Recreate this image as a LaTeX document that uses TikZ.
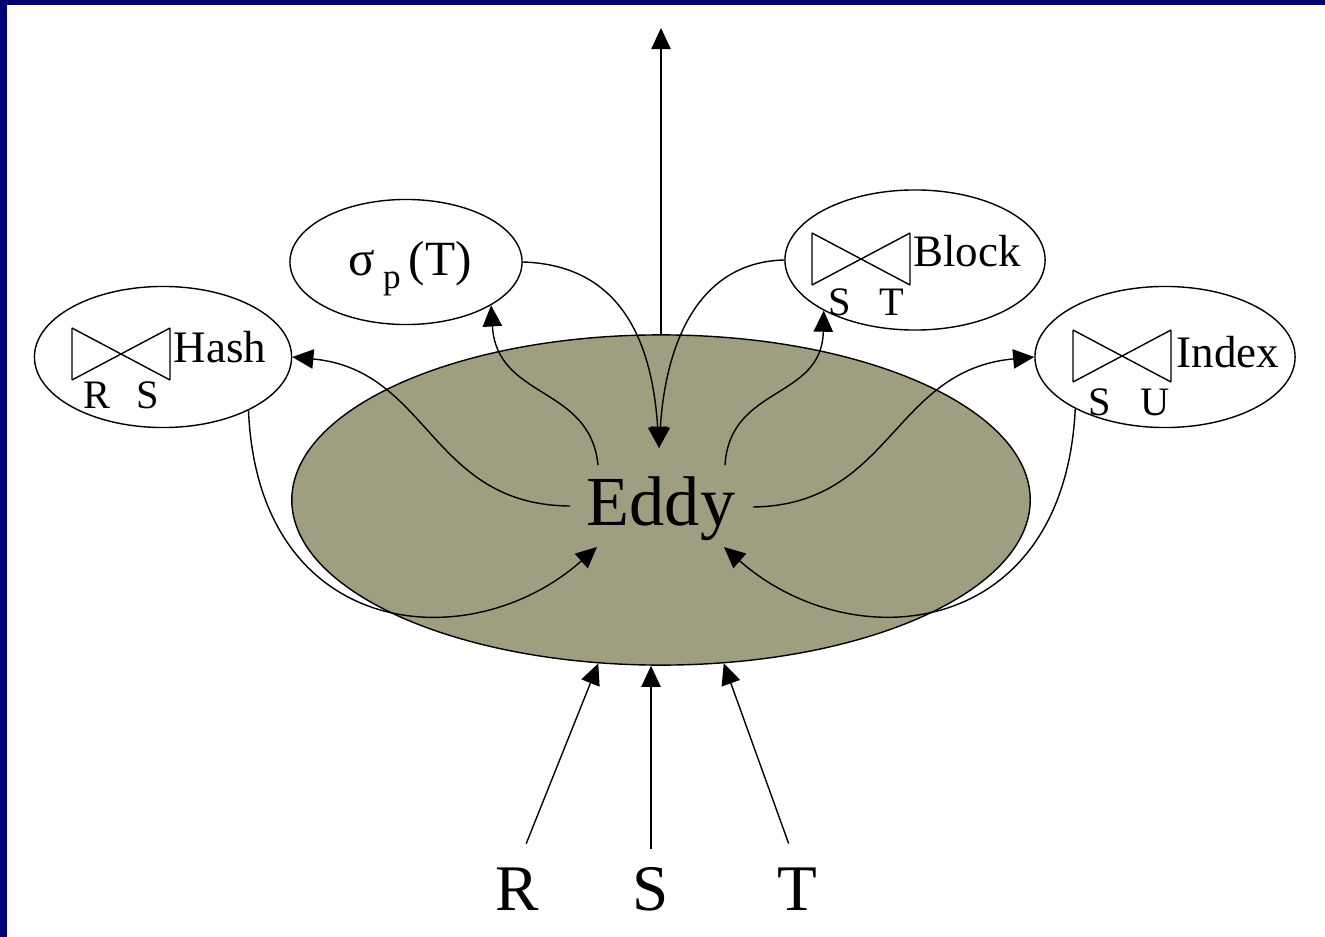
\documentclass[tikz,border=0pt]{standalone}
\usepackage{fontspec}
\setmainfont{Liberation Serif}
\usetikzlibrary{shapes.geometric,arrows.meta}
\definecolor{slidenavy}{RGB}{0,0,112}
\definecolor{eddyolive}{RGB}{160,158,128}
\tikzset{
  opnode/.style={draw, ellipse, inner sep=0pt},
  flow/.style={-{Triangle[length=6pt,width=5.5pt]}},
  oplabel/.style={inner sep=0pt, anchor=base, font=\fontsize{12.8}{14}\selectfont},
  sublabel/.style={inner sep=0pt, anchor=base, font=\fontsize{11.5}{13}\selectfont},
  srclabel/.style={inner sep=0pt, anchor=base, font=\fontsize{18.5}{20}\selectfont},
  bowtie/.pic={\draw (0,0) -- (0,52) (98,0) -- (98,52) (0,0) -- (98,52) (0,52) -- (98,0);}
}
\begin{document}
\begin{tikzpicture}[x=0.01cm, y=-0.01cm, line width=0.4pt]
  % slide frame
  \fill[slidenavy] (0,0) rectangle (1325,937);
  \fill[white] (7,5) rectangle (1325,937);
  \useasboundingbox (0,0) rectangle (1325,937);

  % eddy and operators
  \node[opnode, fill=eddyolive, minimum width=7.38cm, minimum height=3.3cm] (eddy) at (661,500) {};
  \node[srclabel, font=\fontsize{20}{22}\selectfont] (eddylbl) at (661,525) {Eddy};
  \node[opnode, minimum width=2.57cm, minimum height=1.41cm] (hash) at (163,357) {};
  \node[opnode, minimum width=2.32cm, minimum height=1.25cm] (select) at (406,262) {};
  \node[opnode, minimum width=2.6cm, minimum height=1.4cm] (block) at (915,260) {};
  \node[opnode, minimum width=2.6cm, minimum height=1.41cm] (index) at (1165,357) {};

  % operator labels
  \pic at (72,328) {bowtie};
  \node[oplabel] (hashlbl) at (220,362) {Hash};
  \node[sublabel] (hashR) at (97,408) {R};
  \node[sublabel] (hashS) at (148,408) {S};
  \node[oplabel, font=\fontsize{14}{16}\selectfont] (selectlbl) at (410,275)
    {σ\,\raisebox{-0.6ex}{\fontsize{10}{12}\selectfont p}\,(T)};
  \pic at (812,233) {bowtie};
  \node[oplabel] (blocklbl) at (967,267) {Block};
  \node[sublabel] (blockS) at (840,315) {S};
  \node[sublabel] (blockT) at (892,315) {T};
  \pic at (1073,330) {bowtie};
  \node[oplabel] (indexlbl) at (1228,367) {Index};
  \node[sublabel] (indexS) at (1100,415) {S};
  \node[sublabel] (indexU) at (1155,415) {U};

  % sources
  \node[srclabel] (inR) at (517,910) {R};
  \node[srclabel] (inS) at (651,910) {S};
  \node[srclabel] (inT) at (797,910) {T};

  % free ends inside the eddy
  \coordinate (out) at (661,28);
  \coordinate (toHash) at (570,506);
  \coordinate (toSelect) at (598,465);
  \coordinate (toBlock) at (725,465);
  \coordinate (toIndex) at (753,507);
  \coordinate (joinL) at (597,547);
  \coordinate (joinTop) at (659,448);
  \coordinate (joinR) at (724,547);

  \draw[flow] (eddy.north) -- (out);
  \draw[flow, shorten <=7pt] (inR.north) -- (eddy.249);
  \draw[flow, shorten <=5pt] (inS.north) -- (inS.north |- eddy.south);
  \draw[flow, shorten <=7pt] (inT.north) -- (eddy.291);

  \draw[flow] (toHash) .. controls (430,505) and (430,370) .. (hash.east);
  \draw[flow] (hash.-32) .. controls (258,640) and (470,660) .. (joinL);
  \draw[flow] (toSelect) .. controls (590,385) and (497,400) .. (select.-27);
  \draw[flow] (select.east) .. controls (620,265) and (652,340) .. (joinTop);
  \draw[flow] (toBlock) .. controls (730,385) and (822,400) .. (block.209);
  \draw[flow] (block.west) .. controls (700,262) and (666,340) .. (joinTop);
  \draw[flow] (toIndex) .. controls (892,505) and (892,370) .. (index.west);
  \draw[flow] (index.210) .. controls (1064,640) and (852,660) .. (joinR);
\end{tikzpicture}
\end{document}
